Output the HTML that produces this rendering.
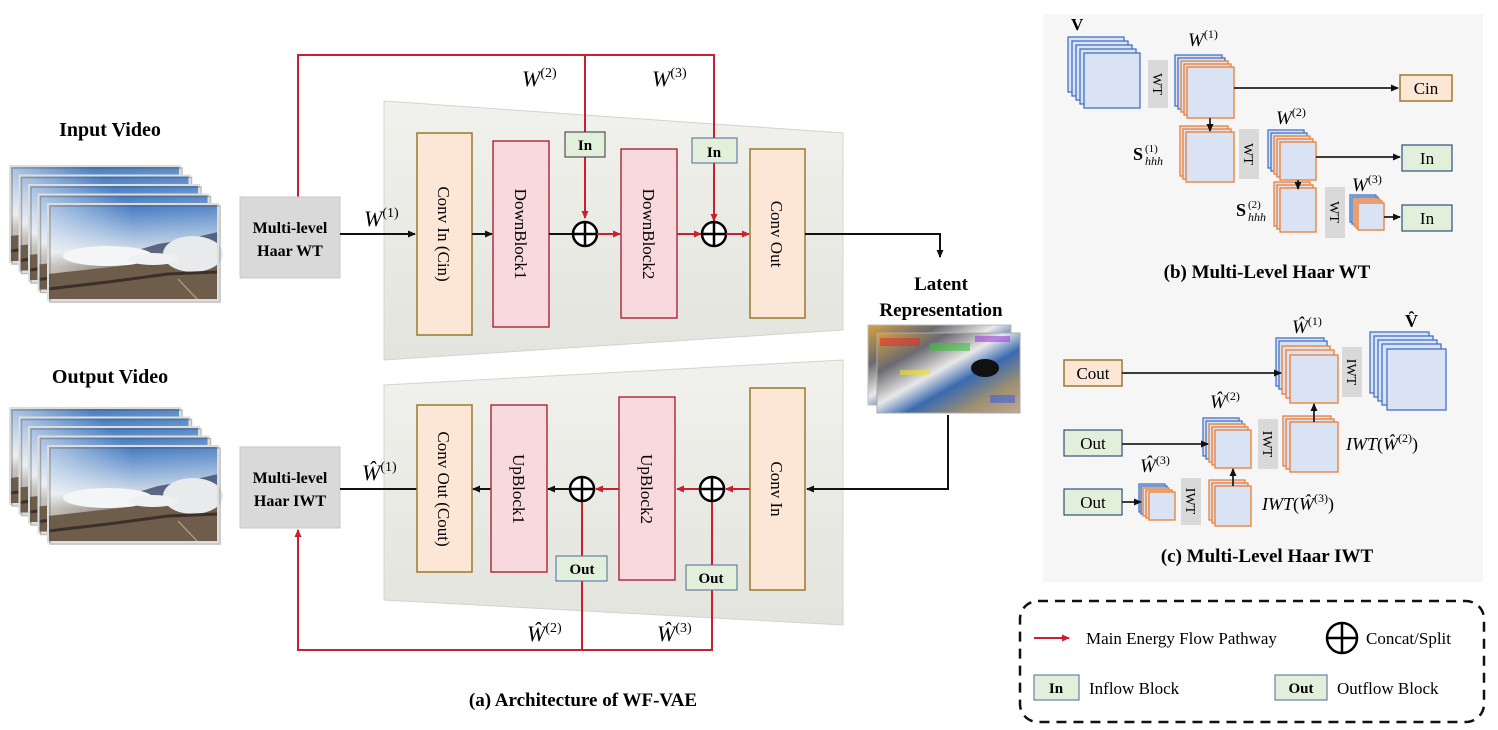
<!DOCTYPE html>
<html><head><meta charset="utf-8"><style>
html,body{margin:0;padding:0;background:#fff;}
svg{display:block;}
text{font-family:"Liberation Serif",serif;}
.b{font-weight:bold;}
.m{font-style:italic;}
</style></head><body>
<svg width="1498" height="730" viewBox="0 0 1498 730" xmlns="http://www.w3.org/2000/svg">
<defs>
<linearGradient id="sky" x1="0" y1="0" x2="0" y2="1">
<stop offset="0" stop-color="#3f78c0"/><stop offset="0.35" stop-color="#a9c2df"/><stop offset="0.5" stop-color="#d8dde4"/><stop offset="0.65" stop-color="#8a8278"/><stop offset="0.85" stop-color="#6a5a48"/><stop offset="1" stop-color="#4a3e33"/>
</linearGradient>
<linearGradient id="skyh" x1="0" y1="0" x2="1" y2="0">
<stop offset="0" stop-color="#fff" stop-opacity="0.55"/><stop offset="0.5" stop-color="#fff" stop-opacity="0"/><stop offset="1" stop-color="#fff" stop-opacity="0.1"/>
</linearGradient>
<linearGradient id="lat" x1="0" y1="0" x2="1" y2="1">
<stop offset="0" stop-color="#d9a040"/><stop offset="0.25" stop-color="#6a6a70"/><stop offset="0.45" stop-color="#e8e8e8"/><stop offset="0.6" stop-color="#3a6ab0"/><stop offset="0.8" stop-color="#a09070"/><stop offset="1" stop-color="#c0a890"/>
</linearGradient>
<linearGradient id="tz" x1="0" y1="0" x2="0" y2="1">
<stop offset="0" stop-color="#f1f1ed"/><stop offset="1" stop-color="#e4e4de"/>
</linearGradient>
<marker id="ak" markerWidth="8" markerHeight="8" refX="7" refY="4" orient="auto" markerUnits="userSpaceOnUse"><path d="M0,0.5 L8,4 L0,7.5 z" fill="#111"/></marker>
<marker id="ar" markerWidth="8" markerHeight="8" refX="7" refY="4" orient="auto" markerUnits="userSpaceOnUse"><path d="M0,0.5 L8,4 L0,7.5 z" fill="#c8202f"/></marker>
<g id="frame"><rect x="0" y="0" width="170" height="96" fill="url(#sky)"/><rect x="0" y="0" width="170" height="96" fill="url(#skyh)"/>
<polygon points="60,55 110,40 140,35 170,28 170,60 60,62" fill="#3d4a66" opacity="0.8"/>
<polygon points="0,70 90,60 170,50 170,96 0,96" fill="#6e5d4a"/>
<ellipse cx="60" cy="52" rx="45" ry="10" fill="#f4f5f7"/><ellipse cx="145" cy="50" rx="30" ry="18" fill="#e8eaec"/><ellipse cx="105" cy="55" rx="25" ry="6" fill="#eef0f2"/>
<polyline points="0,85 60,78 120,70 170,68" fill="none" stroke="#3a3028" stroke-width="3"/><line x1="130" y1="75" x2="150" y2="96" stroke="#a89878" stroke-width="1.5"/>
<rect x="0" y="0" width="170" height="96" fill="none" stroke="#ddd" stroke-width="2"/><rect x="2" y="2" width="170" height="96" fill="none" stroke="#555" stroke-width="1.5" opacity="0.4"/></g>
</defs>

<!-- Video stacks -->
<text x="110" y="136" text-anchor="middle" font-size="20" class="b">Input Video</text>
<use href="#frame" x="10" y="166"/><use href="#frame" x="19.5" y="175.5"/><use href="#frame" x="29" y="185"/><use href="#frame" x="38.5" y="194.5"/><use href="#frame" x="48" y="204"/>
<text x="110" y="383" text-anchor="middle" font-size="20" class="b">Output Video</text>
<use href="#frame" x="10" y="408"/><use href="#frame" x="19.5" y="417.5"/><use href="#frame" x="29" y="427"/><use href="#frame" x="38.5" y="436.5"/><use href="#frame" x="48" y="446"/>

<!-- Trapezoids -->
<polygon points="384,101 843,133 843,330 384,360" fill="url(#tz)" stroke="#d4d4cc"/>
<polygon points="384,385 843,360 843,625 384,600" fill="url(#tz)" stroke="#d4d4cc"/>

<!-- Encoder -->
<polyline points="298,197 298,55 714,55 714,218" fill="none" stroke="#c8202f" stroke-width="2"/>
<line x1="585" y1="55" x2="585" y2="218" stroke="#c8202f" stroke-width="2" marker-end="url(#ar)"/>
<line x1="714" y1="150" x2="714" y2="221" stroke="#c8202f" stroke-width="2" marker-end="url(#ar)"/>
<text x="522" y="86" font-size="22" class="m">W<tspan font-size="14" dy="-9" font-style="normal">(2)</tspan></text>
<text x="652" y="86" font-size="22" class="m">W<tspan font-size="14" dy="-9" font-style="normal">(3)</tspan></text>

<rect x="240" y="197" width="100" height="81" fill="#d9d9d9" stroke="#c8c8c8"/>
<text x="290" y="233" text-anchor="middle" font-size="16" class="b">Multi-level</text>
<text x="290" y="256" text-anchor="middle" font-size="16" class="b">Haar WT</text>
<text x="364" y="226" font-size="22" class="m">W<tspan font-size="14" dy="-9" font-style="normal">(1)</tspan></text>
<line x1="340" y1="234" x2="415" y2="234" stroke="#111" stroke-width="2" marker-end="url(#ak)"/>

<rect x="417" y="133" width="55" height="202" fill="#fce6d6" stroke="#9a7a2c" stroke-width="1.5"/>
<text transform="translate(438,234) rotate(90)" text-anchor="middle" font-size="17">Conv In (Cin)</text>
<line x1="472" y1="234" x2="492" y2="234" stroke="#111" stroke-width="2" marker-end="url(#ak)"/>
<rect x="493" y="141" width="56" height="186" fill="#f8d9de" stroke="#b0303e" stroke-width="1.5"/>
<text transform="translate(515,234) rotate(90)" text-anchor="middle" font-size="17">DownBlock1</text>
<line x1="549" y1="234" x2="573" y2="234" stroke="#111" stroke-width="2"/>
<rect x="565" y="132" width="40" height="25" fill="#e2efda" stroke="#333" stroke-width="1"/>
<text x="585" y="150" text-anchor="middle" font-size="15" class="b">In</text>
<circle cx="585" cy="234" r="12" fill="#fff" stroke="#000" stroke-width="2.5"/><path d="M573,234 H597 M585,222 V246" stroke="#000" stroke-width="2.5"/>
<line x1="597" y1="234" x2="620" y2="234" stroke="#c8202f" stroke-width="2" marker-end="url(#ar)"/>
<rect x="621" y="149" width="56" height="169" fill="#f8d9de" stroke="#b0303e" stroke-width="1.5"/>
<text transform="translate(643,234) rotate(90)" text-anchor="middle" font-size="17">DownBlock2</text>
<line x1="677" y1="234" x2="701" y2="234" stroke="#c8202f" stroke-width="2" marker-end="url(#ar)"/>
<rect x="692" y="138" width="45" height="25" fill="#e2efda" stroke="#4a6a9a" stroke-width="1"/>
<text x="714" y="157" text-anchor="middle" font-size="15" class="b">In</text>
<circle cx="714" cy="234" r="12" fill="#fff" stroke="#000" stroke-width="2.5"/><path d="M702,234 H726 M714,222 V246" stroke="#000" stroke-width="2.5"/>
<line x1="726" y1="234" x2="749" y2="234" stroke="#c8202f" stroke-width="2" marker-end="url(#ar)"/>
<rect x="750" y="149" width="55" height="169" fill="#fce6d6" stroke="#9a7a2c" stroke-width="1.5"/>
<text transform="translate(771,234) rotate(90)" text-anchor="middle" font-size="17">Conv Out</text>
<polyline points="805,234 940,234 940,257" fill="none" stroke="#111" stroke-width="2" marker-end="url(#ak)"/>

<!-- Latent -->
<text x="941" y="290" text-anchor="middle" font-size="19" class="b">Latent</text>
<text x="941" y="316" text-anchor="middle" font-size="19" class="b">Representation</text>
<rect x="868" y="325" width="143" height="80" fill="url(#lat)" stroke="#bbb"/>
<rect x="877" y="333" width="143" height="80" fill="url(#lat)" stroke="#aaa"/>
<rect x="880" y="338" width="40" height="8" fill="#e03030" opacity="0.6"/><rect x="930" y="343" width="40" height="8" fill="#40c040" opacity="0.6"/><rect x="975" y="336" width="35" height="6" fill="#a040e0" opacity="0.6"/><rect x="990" y="395" width="25" height="8" fill="#4060e0" opacity="0.6"/><rect x="900" y="370" width="30" height="5" fill="#f0e020" opacity="0.6"/><ellipse cx="985" cy="368" rx="14" ry="9" fill="#111"/>
<polyline points="948,415 948,489 807,489" fill="none" stroke="#111" stroke-width="2" marker-end="url(#ak)"/>

<!-- Decoder -->
<rect x="240" y="447" width="100" height="81" fill="#d9d9d9" stroke="#c8c8c8"/>
<text x="290" y="483" text-anchor="middle" font-size="16" class="b">Multi-level</text>
<text x="290" y="506" text-anchor="middle" font-size="16" class="b">Haar IWT</text>
<text x="362" y="480" font-size="22" class="m">Ŵ<tspan font-size="14" dy="-9" font-style="normal">(1)</tspan></text>
<line x1="340" y1="489" x2="417" y2="489" stroke="#111" stroke-width="2"/>
<rect x="417" y="405" width="55" height="167" fill="#fce6d6" stroke="#9a7a2c" stroke-width="1.5"/>
<text transform="translate(438,489) rotate(90)" text-anchor="middle" font-size="17">Conv Out (Cout)</text>
<line x1="491" y1="489" x2="473" y2="489" stroke="#111" stroke-width="2" marker-end="url(#ak)"/>
<rect x="491" y="405" width="56" height="167" fill="#f8d9de" stroke="#b0303e" stroke-width="1.5"/>
<text transform="translate(513,489) rotate(90)" text-anchor="middle" font-size="17">UpBlock1</text>
<line x1="570" y1="489" x2="548" y2="489" stroke="#111" stroke-width="2" marker-end="url(#ak)"/>
<polyline points="298,530 298,650 712,650 712,501" fill="none" stroke="#c8202f" stroke-width="2"/>
<line x1="298" y1="560" x2="298" y2="530" stroke="#c8202f" stroke-width="2" marker-end="url(#ar)"/>
<line x1="582" y1="650" x2="582" y2="501" stroke="#c8202f" stroke-width="2"/>
<circle cx="582" cy="489" r="12" fill="#fff" stroke="#000" stroke-width="2.5"/><path d="M570,489 H594 M582,477 V501" stroke="#000" stroke-width="2.5"/>
<rect x="556" y="556" width="51" height="25" fill="#e2efda" stroke="#4a6a9a" stroke-width="1"/>
<text x="582" y="574" text-anchor="middle" font-size="15" class="b">Out</text>
<line x1="619" y1="489" x2="596" y2="489" stroke="#c8202f" stroke-width="2" marker-end="url(#ar)"/>
<rect x="619" y="397" width="56" height="183" fill="#f8d9de" stroke="#b0303e" stroke-width="1.5"/>
<text transform="translate(641,489) rotate(90)" text-anchor="middle" font-size="17">UpBlock2</text>
<line x1="700" y1="489" x2="677" y2="489" stroke="#c8202f" stroke-width="2" marker-end="url(#ar)"/>
<circle cx="712" cy="489" r="12" fill="#fff" stroke="#000" stroke-width="2.5"/><path d="M700,489 H724 M712,477 V501" stroke="#000" stroke-width="2.5"/>
<rect x="686" y="565" width="51" height="25" fill="#e2efda" stroke="#4a6a9a" stroke-width="1"/>
<text x="711" y="583" text-anchor="middle" font-size="15" class="b">Out</text>
<line x1="750" y1="489" x2="726" y2="489" stroke="#c8202f" stroke-width="2" marker-end="url(#ar)"/>
<rect x="750" y="388" width="55" height="202" fill="#fce6d6" stroke="#9a7a2c" stroke-width="1.5"/>
<text transform="translate(771,489) rotate(90)" text-anchor="middle" font-size="17">Conv In</text>
<text x="527" y="641" font-size="22" class="m">Ŵ<tspan font-size="14" dy="-9" font-style="normal">(2)</tspan></text>
<text x="657" y="641" font-size="22" class="m">Ŵ<tspan font-size="14" dy="-9" font-style="normal">(3)</tspan></text>
<text x="583" y="706" text-anchor="middle" font-size="19" class="b">(a) Architecture of WF-VAE</text>

<!-- Right panel -->
<rect x="1043" y="14" width="440" height="568" fill="#f6f6f6"/>
<g fill="#dae3f3" stroke-width="1.3">
<g stroke="#4472c4"><rect x="1068" y="37" width="56" height="55"/><rect x="1072" y="41" width="56" height="55"/><rect x="1076" y="45" width="56" height="55"/><rect x="1080" y="49" width="56" height="55"/><rect x="1084" y="53" width="56" height="55"/></g>
<g stroke="#4472c4"><rect x="1175" y="55" width="47" height="51"/><rect x="1178" y="58" width="47" height="51"/></g>
<g stroke="#ed7d31"><rect x="1181" y="61" width="47" height="51"/><rect x="1184" y="64" width="47" height="51"/><rect x="1187" y="67" width="47" height="51"/></g>
<g stroke="#ed7d31"><rect x="1180" y="126" width="48" height="50"/><rect x="1183" y="129" width="48" height="50"/><rect x="1186" y="132" width="48" height="50"/></g>
<g stroke="#4472c4"><rect x="1268" y="130" width="36" height="38"/><rect x="1271" y="133" width="36" height="38"/></g>
<g stroke="#ed7d31"><rect x="1274" y="136" width="36" height="38"/><rect x="1277" y="139" width="36" height="38"/><rect x="1280" y="142" width="36" height="38"/></g>
<g stroke="#ed7d31"><rect x="1274" y="182" width="36" height="44"/><rect x="1277" y="185" width="36" height="44"/><rect x="1280" y="188" width="36" height="44"/></g>
<g stroke="#4472c4"><rect x="1350" y="195" width="26" height="27"/><rect x="1352" y="197" width="26" height="27"/></g>
<g stroke="#ed7d31"><rect x="1354" y="199" width="26" height="27"/><rect x="1356" y="201" width="26" height="27"/><rect x="1358" y="203" width="26" height="27"/></g>
<g stroke="#4472c4"><rect x="1276" y="338" width="48" height="48"/><rect x="1279" y="341" width="48" height="48"/></g>
<g stroke="#ed7d31"><rect x="1282" y="346" width="48" height="48"/><rect x="1286" y="350" width="48" height="48"/><rect x="1290" y="355" width="48" height="48"/></g>
<g stroke="#4472c4"><rect x="1370" y="332" width="59" height="61"/><rect x="1374" y="336" width="59" height="61"/><rect x="1378" y="340" width="59" height="61"/><rect x="1382" y="344" width="59" height="61"/><rect x="1387" y="349" width="59" height="61"/></g>
<g stroke="#ed7d31"><rect x="1283" y="416" width="48" height="50"/><rect x="1286" y="419" width="48" height="50"/><rect x="1290" y="422" width="48" height="50"/></g>
<g stroke="#4472c4"><rect x="1203" y="418" width="36" height="38"/><rect x="1206" y="421" width="36" height="38"/></g>
<g stroke="#ed7d31"><rect x="1209" y="424" width="36" height="38"/><rect x="1212" y="427" width="36" height="38"/><rect x="1215" y="430" width="36" height="38"/></g>
<g stroke="#ed7d31"><rect x="1209" y="480" width="36" height="40"/><rect x="1212" y="483" width="36" height="40"/><rect x="1215" y="486" width="36" height="40"/></g>
<g stroke="#4472c4"><rect x="1139" y="484" width="26" height="28"/><rect x="1141" y="486" width="26" height="28"/></g>
<g stroke="#ed7d31"><rect x="1143" y="488" width="26" height="28"/><rect x="1146" y="490" width="26" height="28"/><rect x="1149" y="492" width="26" height="28"/></g>
</g>

<g fill="#d9d9d9">
<rect x="1148" y="60" width="20" height="48"/><rect x="1239" y="129" width="20" height="50"/><rect x="1325" y="187" width="20" height="51"/>
<rect x="1342" y="347" width="20" height="50"/><rect x="1258" y="419" width="20" height="50"/><rect x="1181" y="478" width="20" height="47"/>
</g>
<g font-size="14">
<text transform="translate(1153,84) rotate(90)" text-anchor="middle">WT</text>
<text transform="translate(1244,154) rotate(90)" text-anchor="middle">WT</text>
<text transform="translate(1330,212) rotate(90)" text-anchor="middle">WT</text>
<text transform="translate(1347,372) rotate(90)" text-anchor="middle">IWT</text>
<text transform="translate(1263,444) rotate(90)" text-anchor="middle">IWT</text>
<text transform="translate(1186,501) rotate(90)" text-anchor="middle">IWT</text>
</g>

<line x1="1234" y1="88" x2="1398" y2="88" stroke="#222" stroke-width="1.8" marker-end="url(#ak)"/>
<line x1="1210" y1="118" x2="1210" y2="131" stroke="#222" stroke-width="1.8" marker-end="url(#ak)"/>
<line x1="1316" y1="157" x2="1400" y2="157" stroke="#222" stroke-width="1.8" marker-end="url(#ak)"/>
<line x1="1298" y1="180" x2="1298" y2="189" stroke="#222" stroke-width="1.8" marker-end="url(#ak)"/>
<line x1="1384" y1="217" x2="1400" y2="217" stroke="#222" stroke-width="1.8" marker-end="url(#ak)"/>
<rect x="1400" y="75" width="52" height="26" fill="#fce6d6" stroke="#9a7a2c" stroke-width="1.5"/>
<text x="1426" y="94" text-anchor="middle" font-size="17">Cin</text>
<rect x="1402" y="145" width="50" height="26" fill="#e2efda" stroke="#2f4f7f" stroke-width="1.2"/>
<text x="1427" y="164" text-anchor="middle" font-size="17">In</text>
<rect x="1402" y="205" width="50" height="26" fill="#e2efda" stroke="#2f4f7f" stroke-width="1.2"/>
<text x="1427" y="224" text-anchor="middle" font-size="17">In</text>
<text x="1071" y="30" font-size="17" class="b">V</text>
<text x="1188" y="46" font-size="19" class="m">W<tspan font-size="12" dy="-8" font-style="normal">(1)</tspan></text>
<text x="1276" y="124" font-size="19" class="m">W<tspan font-size="12" dy="-8" font-style="normal">(2)</tspan></text>
<text x="1352" y="191" font-size="19" class="m">W<tspan font-size="12" dy="-8" font-style="normal">(3)</tspan></text>
<text x="1133" y="160" font-size="18" class="b">S</text><text x="1145" y="152" font-size="11">(1)</text><text x="1145" y="165" font-size="12" class="m">hhh</text>
<text x="1236" y="216" font-size="18" class="b">S</text><text x="1248" y="208" font-size="11">(2)</text><text x="1248" y="221" font-size="12" class="m">hhh</text>
<text x="1267" y="278" text-anchor="middle" font-size="19" class="b">(b) Multi-Level Haar WT</text>

<rect x="1064" y="360" width="58" height="26" fill="#fce6d6" stroke="#9a7a2c" stroke-width="1.5"/>
<text x="1093" y="379" text-anchor="middle" font-size="17">Cout</text>
<line x1="1122" y1="373" x2="1281" y2="373" stroke="#222" stroke-width="1.8" marker-end="url(#ak)"/>
<rect x="1064" y="430" width="58" height="26" fill="#e2efda" stroke="#2f4f7f" stroke-width="1.2"/>
<text x="1093" y="449" text-anchor="middle" font-size="17">Out</text>
<line x1="1122" y1="444" x2="1208" y2="444" stroke="#222" stroke-width="1.8" marker-end="url(#ak)"/>
<rect x="1064" y="489" width="58" height="26" fill="#e2efda" stroke="#2f4f7f" stroke-width="1.2"/>
<text x="1093" y="508" text-anchor="middle" font-size="17">Out</text>
<line x1="1122" y1="502" x2="1141" y2="502" stroke="#222" stroke-width="1.8" marker-end="url(#ak)"/>
<line x1="1314" y1="422" x2="1314" y2="404" stroke="#222" stroke-width="1.8" marker-end="url(#ak)"/>
<line x1="1233" y1="486" x2="1233" y2="469" stroke="#222" stroke-width="1.8" marker-end="url(#ak)"/>
<text x="1292" y="333" font-size="19" class="m">Ŵ<tspan font-size="12" dy="-8" font-style="normal">(1)</tspan></text>
<text x="1405" y="327" font-size="18" class="b">V̂</text>
<text x="1210" y="408" font-size="19" class="m">Ŵ<tspan font-size="12" dy="-8" font-style="normal">(2)</tspan></text>
<text x="1140" y="472" font-size="19" class="m">Ŵ<tspan font-size="12" dy="-8" font-style="normal">(3)</tspan></text>
<text x="1346" y="450" font-size="18" class="m">IWT<tspan font-style="normal">(</tspan>Ŵ<tspan font-size="12" dy="-8" font-style="normal">(2)</tspan><tspan dy="8" font-style="normal">)</tspan></text>
<text x="1262" y="510" font-size="18" class="m">IWT<tspan font-style="normal">(</tspan>Ŵ<tspan font-size="12" dy="-8" font-style="normal">(3)</tspan><tspan dy="8" font-style="normal">)</tspan></text>
<text x="1267" y="562" text-anchor="middle" font-size="19" class="b">(c) Multi-Level Haar IWT</text>

<!-- Legend -->
<rect x="1020" y="601" width="464" height="121" rx="18" fill="none" stroke="#111" stroke-width="2.5" stroke-dasharray="10 7"/>
<line x1="1034" y1="638" x2="1069" y2="638" stroke="#c8202f" stroke-width="2" marker-end="url(#ar)"/>
<text x="1086" y="644" font-size="17">Main Energy Flow Pathway</text>
<circle cx="1342" cy="638" r="15" fill="none" stroke="#000" stroke-width="2.5"/><path d="M1327,638 H1357 M1342,623 V653" stroke="#000" stroke-width="2.5"/>
<text x="1366" y="644" font-size="17">Concat/Split</text>
<rect x="1034" y="675" width="45" height="25" fill="#e2efda" stroke="#4a6a9a" stroke-width="1"/>
<text x="1056" y="693" text-anchor="middle" font-size="15" class="b">In</text>
<text x="1089" y="694" font-size="17">Inflow Block</text>
<rect x="1275" y="675" width="52" height="25" fill="#e2efda" stroke="#4a6a9a" stroke-width="1"/>
<text x="1301" y="693" text-anchor="middle" font-size="15" class="b">Out</text>
<text x="1337" y="694" font-size="17">Outflow Block</text>
</svg>
</body></html>
